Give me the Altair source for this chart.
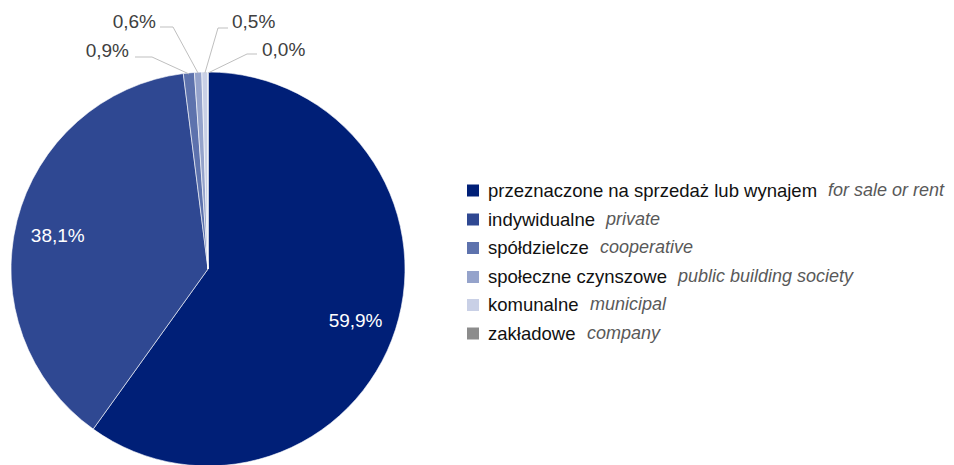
import altair as alt
import pandas as pd
import numpy as np

# ---- data ----
categories_pl = ["przeznaczone na sprzedaż lub wynajem", "indywidualne", "spółdzielcze",
                 "społeczne czynszowe", "komunalne", "zakładowe"]
categories_en = ["for sale or rent", "private", "cooperative",
                 "public building society", "municipal", "company"]
shares = [59.9, 38.1, 0.9, 0.6, 0.5, 0.0]
share_labels = ["59,9%", "38,1%", "0,9%", "0,6%", "0,5%", "0,0%"]
colors = ["#001F77", "#2F4892", "#5D72AD", "#95A3CB", "#C9D0E6", "#8C8C8C"]

# ---- layout (pixels in the chart area) ----
W, H = 938, 470
CX, CY, R = 200, 261, 197
R_IN = 155
IN_DY = 5
FONT = "Liberation Sans"

# outside labels (slices 2..5)
out_idx = [2, 3, 4, 5]
out_text_x = [121, 148, 224, 254]
out_text_y = [49, 20, 20, 48]
out_align = ["right", "right", "left", "left"]
lead_end_x = [127, 152, 220, 249]
lead_elbow_x = [144, 165, 210, 239]
lead_y = [49, 19, 20, 46]
lead_r = 196

# legend
leg_square_x = 465
leg_rows_y = [182.5, 211.5, 240, 269, 297, 325.5]
leg_pl_x = 480
leg_en_x = [820, 598, 592, 670, 582, 579]

# ---- derived ----
vals = np.array(shares, dtype=float)
total = vals.sum()
start = np.cumsum(vals) - vals
mid = (start + vals / 2) / total * 2 * np.pi

pie_df = pd.DataFrame({"idx": range(len(shares)), "pl": categories_pl, "share": shares})

inside_df = pd.DataFrame({
    "label": share_labels[:2],
    "x": [CX + R_IN * np.sin(m) for m in mid[:2]],
    "y": [CY - R_IN * np.cos(m) + IN_DY for m in mid[:2]],
})

out_df = pd.DataFrame({
    "label": [share_labels[i] for i in out_idx],
    "x": out_text_x, "y": out_text_y, "align": out_align,
})

lead_rows = []
for k, i in enumerate(out_idx):
    px = CX + lead_r * np.sin(mid[i])
    py = CY - lead_r * np.cos(mid[i])
    lead_rows += [
        {"g": k, "o": 0, "x": lead_end_x[k], "y": lead_y[k]},
        {"g": k, "o": 1, "x": lead_elbow_x[k], "y": lead_y[k]},
        {"g": k, "o": 2, "x": px, "y": py},
    ]
lead_df = pd.DataFrame(lead_rows)

leg_df = pd.DataFrame({
    "pl": categories_pl, "en": categories_en,
    "y": leg_rows_y, "sx": [leg_square_x] * 6, "px": [leg_pl_x] * 6, "ex": leg_en_x,
})

xs = alt.Scale(domain=[0, W], nice=False, zero=False)
ys = alt.Scale(domain=[0, H], nice=False, zero=False, reverse=True)
color_scale = alt.Scale(domain=categories_pl, range=colors)

pie = alt.Chart(pie_df).mark_arc(radius=R, stroke="white", strokeWidth=0.6).encode(
    theta=alt.Theta("share:Q", stack=True),
    order=alt.Order("idx:Q"),
    color=alt.Color("pl:N", scale=color_scale, legend=None),
    x=alt.value(CX), y=alt.value(CY),
)

inside = alt.Chart(inside_df).mark_text(
    font=FONT, fontSize=19, color="white", align="center", baseline="middle"
).encode(
    x=alt.X("x:Q", scale=xs, axis=None),
    y=alt.Y("y:Q", scale=ys, axis=None),
    text="label:N",
)

leaders = alt.Chart(lead_df).mark_line(color="#BFBFBF", strokeWidth=1).encode(
    x=alt.X("x:Q", scale=xs, axis=None),
    y=alt.Y("y:Q", scale=ys, axis=None),
    detail="g:N",
    order="o:Q",
)

out_layers = []
for al in ["left", "right"]:
    out_layers.append(
        alt.Chart(out_df[out_df["align"] == al]).mark_text(
            font=FONT, fontSize=19, color="#404040", align=al, baseline="alphabetic"
        ).encode(
            x=alt.X("x:Q", scale=xs, axis=None),
            y=alt.Y("y:Q", scale=ys, axis=None),
            text="label:N",
        )
    )

leg_sq = alt.Chart(leg_df).mark_square(size=144, opacity=1).encode(
    x=alt.X("sx:Q", scale=xs, axis=None),
    y=alt.Y("y:Q", scale=ys, axis=None),
    color=alt.Color("pl:N", scale=color_scale, legend=None),
)

leg_pl = alt.Chart(leg_df).mark_text(
    font=FONT, fontSize=18.5, color="#111111", align="left", baseline="middle"
).encode(
    x=alt.X("px:Q", scale=xs, axis=None),
    y=alt.Y("y:Q", scale=ys, axis=None),
    text="pl:N",
)

leg_en = alt.Chart(leg_df).mark_text(
    font=FONT, fontSize=18, fontStyle="italic", color="#595959", align="left", baseline="middle"
).encode(
    x=alt.X("ex:Q", scale=xs, axis=None),
    y=alt.Y("y:Q", scale=ys, axis=None),
    text="en:N",
)

chart = alt.layer(pie, inside, leaders, *out_layers, leg_sq, leg_pl, leg_en).properties(
    width=W, height=H, autosize="none", padding=0
).configure_view(stroke=None)

chart.save("out.html", embed_options={"renderer": "svg", "actions": False})
